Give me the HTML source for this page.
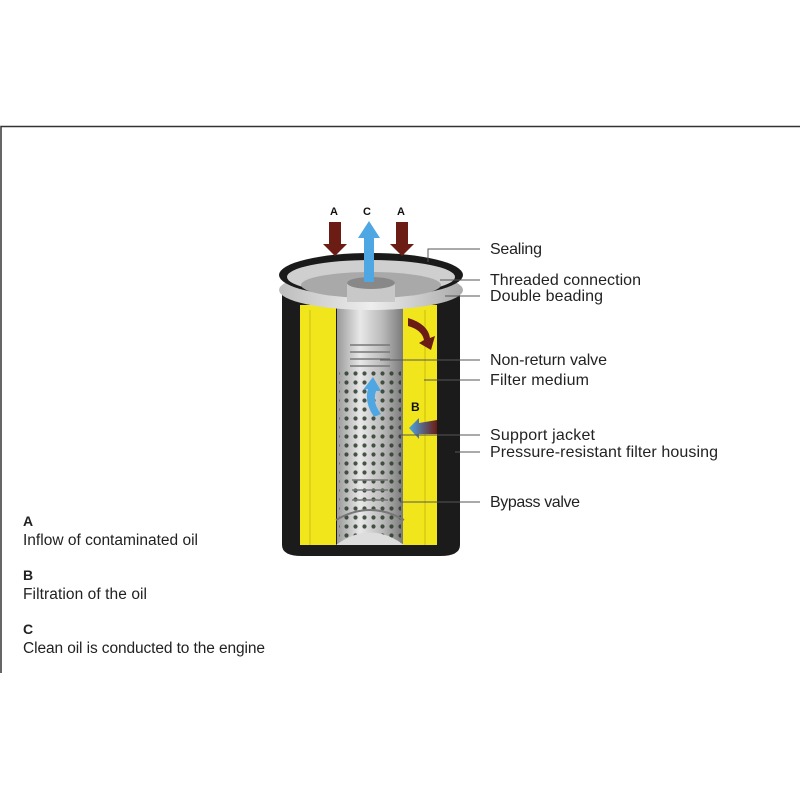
<!DOCTYPE html>
<html><head><style>
html,body{margin:0;padding:0;background:#fff;}
body{width:800px;height:800px;position:relative;overflow:hidden;font-family:"Liberation Sans",sans-serif;}
</style></head><body>
<svg width="800" height="800" viewBox="0 0 800 800" xmlns="http://www.w3.org/2000/svg" style="position:absolute;left:0;top:0">
<defs>
<linearGradient id="tube" x1="0" x2="1"><stop offset="0" stop-color="#9a9a9a"/><stop offset="0.35" stop-color="#e8e8e8"/><stop offset="0.7" stop-color="#b8b8b8"/><stop offset="1" stop-color="#7a7a7a"/></linearGradient>
<linearGradient id="cap" x1="0" x2="1"><stop offset="0" stop-color="#bdbdbd"/><stop offset="0.5" stop-color="#eee"/><stop offset="1" stop-color="#aaa"/></linearGradient>
<pattern id="holes" width="9" height="9" patternUnits="userSpaceOnUse"><circle cx="4.5" cy="4.5" r="2.1" fill="#2a3a2a"/></pattern>
<linearGradient id="bgrad" x1="1" x2="0"><stop offset="0" stop-color="#6b1c14"/><stop offset="1" stop-color="#4aa6e6"/></linearGradient>
</defs>
<path d="M1 673 V126.5 H800" fill="none" stroke="#333" stroke-width="1.5"/>
<path d="M282 290 H460 V545 Q460 556 440 556 H302 Q282 556 282 545 Z" fill="#1b1b1b"/>
<rect x="300" y="305" width="36" height="240" fill="#f1e61c"/>
<rect x="402" y="305" width="35" height="240" fill="#f1e61c"/>
<line x1="310" y1="310" x2="310" y2="545" stroke="#c9bf10" stroke-width="1"/>
<line x1="425" y1="310" x2="425" y2="545" stroke="#c9bf10" stroke-width="1"/>
<rect x="337" y="300" width="66" height="245" fill="url(#tube)"/>
<rect x="339" y="368" width="62" height="175" fill="url(#holes)" opacity="0.85"/>
<path d="M336 545 Q370 520 404 545 Z" fill="#ddd"/>
<path d="M336 520 Q370 500 404 520" stroke="#777" fill="none" stroke-width="2"/>
<path d="M350 345 h40 M350 352 h40 M350 359 h40 M350 366 h40 M352 480 h36 M352 490 h36 M352 500 h36" stroke="#777" stroke-width="1.5"/>
<ellipse cx="371" cy="290" rx="92" ry="20" fill="url(#cap)"/>
<ellipse cx="371" cy="275" rx="92" ry="22" fill="#1a1a1a"/>
<ellipse cx="371" cy="277" rx="84" ry="17" fill="#cfcfcf"/>
<ellipse cx="371" cy="285" rx="70" ry="13" fill="#a9a9a9"/>
<rect x="347" y="282" width="48" height="20" fill="#c8c8c8"/>
<ellipse cx="371" cy="283" rx="24" ry="6" fill="#888"/>
<path d="M329 222 h12 v22 h6 l-12 12 l-12 -12 h6 z" fill="#6a1c15"/>
<path d="M396 222 h12 v22 h6 l-12 12 l-12 -12 h6 z" fill="#6a1c15"/>
<path d="M364 282 v-44 h-6 l11 -17 l11 17 h-6 v44 z" fill="#4ea6e2"/>
<path d="M408 318 q20 6 22 20 l5 -2 l-4 14 l-12 -7 l5 -3 q-2 -10 -16 -14 z" fill="#6a1c15"/>
<path d="M374 417 q-10 -15 -6 -28 l-5 1 l10 -13 l8 14 l-5 0 q-4 12 5 23 z" fill="#4ea6e2"/>
<path d="M437 420 v14 h-18 v5 l-10 -11 l10 -10 v5 z" fill="url(#bgrad)"/>
<g font-family="Liberation Sans,sans-serif" font-weight="bold" font-size="11" fill="#111">
<text x="330" y="215">A</text><text x="363" y="215">C</text><text x="397" y="215">A</text><text x="411" y="411" font-size="12">B</text>
</g>
<g stroke="#555" stroke-width="1" fill="none">
<path d="M428 262 V249 H480"/>
<path d="M440 280 H480"/>
<path d="M445 296 H480"/>
<path d="M380 360 H480"/>
<path d="M424 380 H480"/>
<path d="M400 435 H480"/>
<path d="M455 452 H480"/>
<path d="M400 502 H480"/>
</g>
<g font-family="Liberation Sans,sans-serif" font-size="16" fill="#222">
<text x="490" y="254" textLength="52">Sealing</text>
<text x="490" y="285" textLength="151">Threaded connection</text>
<text x="490" y="301" textLength="113">Double beading</text>
<text x="490" y="365" textLength="117">Non-return valve</text>
<text x="490" y="385" textLength="99">Filter medium</text>
<text x="490" y="440" textLength="105">Support jacket</text>
<text x="490" y="457" textLength="228">Pressure-resistant filter housing</text>
<text x="490" y="507" textLength="90">Bypass valve</text>
</g>
<g font-family="Liberation Sans,sans-serif" font-size="15.5" fill="#222">
<text x="23" y="526" font-weight="bold" font-size="14">A</text>
<text x="23" y="545" textLength="175">Inflow of contaminated oil</text>
<text x="23" y="580" font-weight="bold" font-size="14">B</text>
<text x="23" y="599" textLength="124">Filtration of the oil</text>
<text x="23" y="634" font-weight="bold" font-size="14">C</text>
<text x="23" y="653" textLength="242">Clean oil is conducted to the engine</text>
</g>
</svg>
</body></html>
